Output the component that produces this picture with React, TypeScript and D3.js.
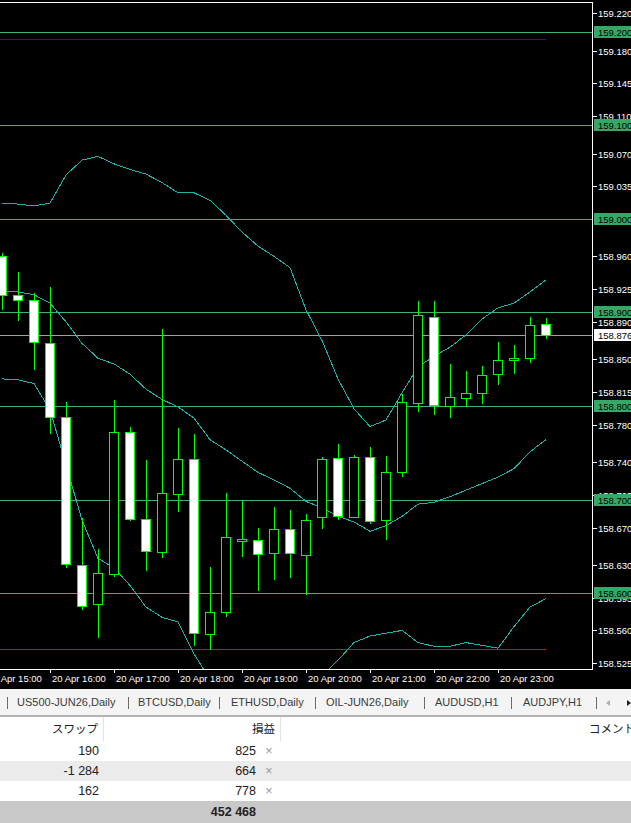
import React from 'react'
import * as d3 from 'd3'

// 15-minute bars, 20 Apr
const barTimes = [
	'15:15', '15:30', '15:45', '16:00', '16:15', '16:30', '16:45', '17:00', '17:15',
	'17:30', '17:45', '18:00', '18:15', '18:30', '18:45', '19:00', '19:15', '19:30',
	'19:45', '20:00', '20:15', '20:30', '20:45', '21:00', '21:15', '21:30', '21:45',
	'22:00', '22:15', '22:30', '22:45', '23:00', '23:15', '23:30', '23:45',
]
const opens = [
	158.96, 158.919, 158.913, 158.867, 158.788, 158.63, 158.588, 158.62, 158.772,
	158.679, 158.644, 158.706, 158.743, 158.556, 158.58, 158.656, 158.657, 158.643,
	158.668, 158.641, 158.681, 158.744, 158.681, 158.745, 158.678, 158.729, 158.803,
	158.895, 158.8, 158.809, 158.814, 158.834, 158.849, 158.851, 158.888,
]
const highs = [
	158.964, 158.943, 158.921, 158.927, 158.804, 158.68, 158.647, 158.806, 158.778,
	158.742, 158.882, 158.776, 158.77, 158.628, 158.707, 158.698, 158.67, 158.692,
	158.689, 158.684, 158.745, 158.759, 158.748, 158.756, 158.747, 158.813, 158.912,
	158.912, 158.845, 158.837, 158.843, 158.868, 158.865, 158.895, 158.894,
]
const lows = [
	158.904, 158.892, 158.84, 158.771, 158.628, 158.583, 158.553, 158.618, 158.678,
	158.625, 158.639, 158.688, 158.544, 158.54, 158.575, 158.64, 158.603, 158.615,
	158.617, 158.599, 158.67, 158.679, 158.681, 158.675, 158.658, 158.725, 158.795,
	158.791, 158.788, 158.8, 158.803, 158.824, 158.835, 158.847, 158.873,
]
const closes = [
	158.919, 158.913, 158.868, 158.788, 158.631, 158.586, 158.621, 158.772, 158.679,
	158.645, 158.707, 158.743, 158.557, 158.58, 158.66, 158.658, 158.642, 158.668,
	158.643, 158.678, 158.743, 158.682, 158.745, 158.677, 158.729, 158.804, 158.897,
	158.801, 158.81, 158.814, 158.833, 158.849, 158.851, 158.887, 158.876,
]

// bollinger bands
const bandUpper = [
	159.017, 159.016, 159.014, 159.017, 159.047, 159.063, 159.067, 159.059, 159.053,
	159.048, 159.039, 159.028, 159.028, 159.02, 159.004, 158.986, 158.971, 158.96,
	158.948, 158.903, 158.87, 158.829, 158.797, 158.778, 158.785, 158.814, 158.842,
	158.853, 158.863, 158.876, 158.893, 158.905, 158.91, 158.922, 158.935,
]
const bandMiddle = [
	158.923, 158.922, 158.919, 158.91, 158.89, 158.867, 158.851, 158.845, 158.834,
	158.818, 158.807, 158.799, 158.787, 158.764, 158.753, 158.741, 158.729, 158.721,
	158.712, 158.698, 158.691, 158.682, 158.676, 158.666, 158.672, 158.682, 158.695,
	158.697, 158.703, 158.71, 158.717, 158.724, 158.733, 158.751, 158.764,
]
const bandLower = [
	158.829, 158.828, 158.824, 158.796, 158.737, 158.678, 158.637, 158.627, 158.608,
	158.585, 158.574, 158.569, 158.535, 158.507, 158.502, 158.496, 158.488, 158.481,
	158.477, 158.494, 158.512, 158.528, 158.547, 158.554, 158.557, 158.56, 158.547,
	158.543, 158.543, 158.547, 158.544, 158.541, 158.564, 158.585, 158.594,
]

const priceTicks = [
	159.22, 159.18, 159.145, 159.11, 159.07, 159.035, 158.96, 158.925, 158.89, 158.85,
	158.815, 158.78, 158.74, 158.705, 158.67, 158.63, 158.595, 158.56, 158.525,
]
const levelLines = [159.2, 159.1, 159.0, 158.9, 158.8, 158.7, 158.6]
const bidPrice = 158.876
const tpPrice = 159.1925
const slPrice = 158.54
const hourTicks = ['15:00', '16:00', '17:00', '18:00', '19:00', '20:00', '21:00', '22:00', '23:00']

const tabs = ['US500-JUN26,Daily', 'BTCUSD,Daily', 'ETHUSD,Daily', 'OIL-JUN26,Daily', 'AUDUSD,H1', 'AUDJPY,H1']
const tabX = [17, 138, 231, 326, 435, 523]
const tabSeps = [7, 128, 219, 315, 424, 511, 596]
const swaps = ['190', '-1 284', '162']
const profits = ['825', '664', '778']
const totalProfit = '452 468'

const W = 631
const H = 823
const plotRight = 592
const plotBottom = 669

export default function App() {
	const parse = d3.timeParse('%Y-%m-%d %H:%M')
	const dates = barTimes.map((t) => parse('2026-04-20 ' + t) as Date)
	const x = d3.scaleTime().domain([dates[0], dates[dates.length - 1]]).range([2, 546])
	const y = d3.scaleLinear().domain([158.6, 159.2]).range([593, 32])
	const fmtTime = d3.timeFormat('%d %b %H:%M')
	const fmtPrice = d3.format('.3f')
	const py = (v: number) => Math.round(y(v)) + 0.5

	const line = d3
		.line<number>()
		.x((_, i) => x(dates[i]))
		.y((d) => y(d))

	const axisFont = '"Liberation Sans", Arial, sans-serif'
	const green = '#3cb371'

	return (
		<svg
			width={W}
			height={H}
			style={{ position: 'absolute', left: 0, top: 0, display: 'block' }}
		>
			<defs>
				<clipPath id="plot">
					<rect x={0} y={3} width={plotRight} height={plotBottom - 3} />
				</clipPath>
			</defs>
			<rect x={0} y={0} width={W} height={689} fill="#000" />

			<g clipPath="url(#plot)" shapeRendering="crispEdges">
				{levelLines.map((v) => (
					<line key={v} x1={0} x2={plotRight} y1={py(v)} y2={py(v)} stroke={green} />
				))}
				<line x1={0} x2={plotRight} y1={py(bidPrice)} y2={py(bidPrice)} stroke="#a0a0a0" />
				<line x1={0} x2={x(dates[dates.length - 1])} y1={py(tpPrice)} y2={py(tpPrice)} stroke="#1818d8" />
				<line x1={0} x2={x(dates[dates.length - 1])} y1={py(slPrice)} y2={py(slPrice)} stroke="#e01010" />

				{[bandUpper, bandMiddle, bandLower].map((b, k) => (
					<path key={k} d={line(b) || ''} fill="none" stroke="#20b2aa" strokeWidth={1} />
				))}

				{dates.map((d, i) => {
					const cx = Math.round(x(d))
					const o = opens[i]
					const c = closes[i]
					const top = Math.round(y(Math.max(o, c)))
					const bot = Math.round(y(Math.min(o, c)))
					return (
						<g key={i}>
							<line
								x1={cx + 0.5}
								x2={cx + 0.5}
								y1={Math.round(y(highs[i]))}
								y2={Math.round(y(lows[i])) + 1}
								stroke="#00ff00"
							/>
							<rect
								x={cx - 4.5}
								y={top + 0.5}
								width={9}
								height={Math.max(bot - top, 1)}
								fill={c < o ? '#fff' : '#000'}
								stroke="#00ff00"
							/>
						</g>
					)
				})}
			</g>

			{/* frame */}
			<g shapeRendering="crispEdges" stroke="#fff">
				<line x1={0} x2={plotRight + 1} y1={2.5} y2={2.5} />
				<line x1={plotRight + 0.5} x2={plotRight + 0.5} y1={2} y2={plotBottom + 1} />
				<line x1={0} x2={plotRight + 1} y1={plotBottom + 0.5} y2={plotBottom + 0.5} />
			</g>

			{/* price axis */}
			<g fontFamily={axisFont} fontSize={9.5}>
				{priceTicks.map((v) => (
					<g key={v}>
						<line x1={593} x2={597} y1={py(v)} y2={py(v)} stroke="#fff" shapeRendering="crispEdges" />
						<text x={598} y={py(v)} dy="0.35em" fill="#fff">
							{fmtPrice(v)}
						</text>
					</g>
				))}
				{levelLines.map((v) => (
					<g key={v}>
						<rect x={594} y={py(v) - 6.5} width={40} height={12} fill="#35a867" />
						<text x={598} y={py(v)} dy="0.35em" fill="#000">
							{fmtPrice(v)}
						</text>
					</g>
				))}
				<rect x={594} y={py(bidPrice) - 6.5} width={40} height={12} fill="#fff" />
				<text x={598} y={py(bidPrice)} dy="0.35em" fill="#000">
					{fmtPrice(bidPrice)}
				</text>
			</g>

			{/* time axis */}
			<g fontFamily={axisFont} fontSize={9.5} fill="#fff">
				{hourTicks.map((t) => {
					const tx = Math.round(x(parse('2026-04-20 ' + t) as Date))
					return (
						<g key={t}>
							<line x1={tx + 0.5} x2={tx + 0.5} y1={plotBottom} y2={plotBottom + 4} stroke="#fff" shapeRendering="crispEdges" />
							<text x={tx + 2} y={682}>
								{fmtTime(parse('2026-04-20 ' + t) as Date)}
							</text>
						</g>
					)
				})}
			</g>

			{/* symbol tabs */}
			<rect x={0} y={689} width={W} height={26} fill="#f4f4f4" />
			<rect x={0} y={715} width={W} height={2} fill="#b4b4b4" />
			<g fontFamily={axisFont} fontSize={11} fill="#3a3a3a">
				{tabs.map((t, i) => (
					<text key={t} x={tabX[i]} y={706}>
						{t}
					</text>
				))}
			</g>
			{tabSeps.map((sx) => (
				<line key={sx} x1={sx + 0.5} x2={sx + 0.5} y1={697} y2={709} stroke="#6a6a6a" shapeRendering="crispEdges" />
			))}
			<path d="M610,700 L606,703 L610,706 Z" fill="#b0b0b0" />
			<path d="M627,700 L631,703 L627,706 Z" fill="#202020" />

			{/* trade table */}
			<rect x={0} y={717} width={W} height={106} fill="#fff" />
			<rect x={0} y={761} width={W} height={20} fill="#ebebeb" />
			<rect x={0} y={801} width={W} height={22} fill="#c8c8c8" />
			<line x1={103.5} x2={103.5} y1={717} y2={741} stroke="#e2e2e2" />
			<line x1={280.5} x2={280.5} y1={717} y2={741} stroke="#e2e2e2" />
			<g fontFamily='"Noto Sans CJK JP", sans-serif' fontSize={11.5} fill="#222" textAnchor="end">
				<text x={98} y={733}>スワップ</text>
				<text x={275} y={733}>損益</text>
				<text x={635} y={733}>コメント</text>
			</g>
			<g fontFamily={axisFont} fontSize={12.5} fill="#222">
				{swaps.map((s, i) => (
					<text key={i} x={99} y={755 + i * 20} textAnchor="end">
						{s}
					</text>
				))}
				{profits.map((p, i) => (
					<g key={i}>
						<text x={256} y={755 + i * 20} textAnchor="end">
							{p}
						</text>
						<text x={269} y={755 + i * 20} textAnchor="middle" fill="#999">
							×
						</text>
					</g>
				))}
				<text x={256} y={816} textAnchor="end" fontWeight="bold">
					{totalProfit}
				</text>
			</g>
		</svg>
	)
}
